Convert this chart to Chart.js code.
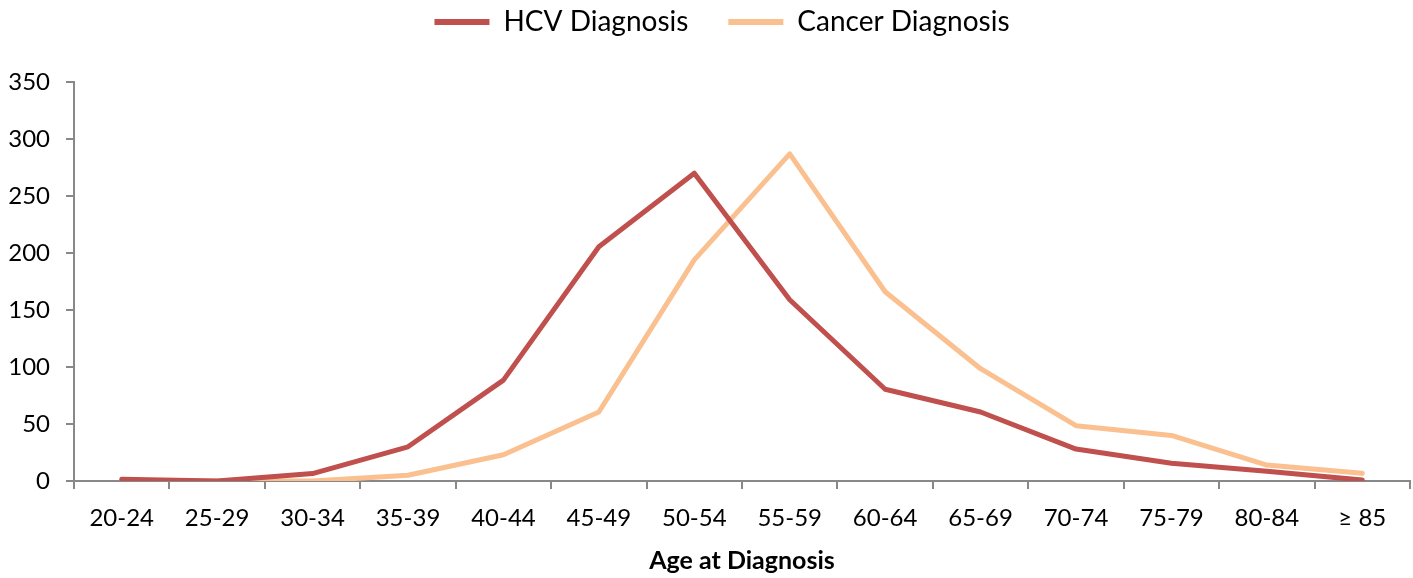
<!DOCTYPE html>
<html><head><meta charset="utf-8">
<script src="https://cdn.jsdelivr.net/npm/chart.js@4"></script>
<style>html,body{margin:0;padding:0;background:#fff}#wrap{width:1413px;height:578px}</style>
</head><body><div id="wrap"><canvas id="c" width="1413" height="578"></canvas></div>
<script>
const categories = ["20-24","25-29","30-34","35-39","40-44","45-49","50-54","55-59","60-64","65-69","70-74","75-79","80-84","\u2265 85"];
const hcvValues = [1.5, 0, 6.5, 30, 88.5, 205.5, 270, 159, 80.5, 60.5, 28, 15.5, 8.5, 0.8];
const cancerValues = [0, 0, 0, 5, 23, 60.5, 194, 287, 166, 98.5, 48.5, 40, 14, 6.8];
const yTicks = [0, 50, 100, 150, 200, 250, 300, 350];
const FONT = "Lato";
const legendShift = {
  id: 'legendShift',
  afterLayout(chart) {
    const lg = chart.legend;
    if (!lg) return;
    lg.top -= 36; lg.bottom -= 36;
    lg.left += 17; lg.right += 17;
  }
};
new Chart(document.getElementById('c'), {
  type: 'line',
  data: {
    labels: categories,
    datasets: [
      {label: 'HCV Diagnosis', data: hcvValues, borderColor: '#C0504D', backgroundColor: '#C0504D', borderWidth: 5, pointRadius: 0, tension: 0, borderJoinStyle: 'round', borderCapStyle: 'round'},
      {label: 'Cancer Diagnosis', data: cancerValues, borderColor: '#FAC090', backgroundColor: '#FAC090', borderWidth: 5, pointRadius: 0, tension: 0, borderJoinStyle: 'round', borderCapStyle: 'round'}
    ]
  },
  plugins: [legendShift],
  options: {
    responsive: false, animation: false,
    layout: {padding: {left: 0, right: 3, top: 4, bottom: 2}},
    plugins: {
      tooltip: {enabled: false},
      legend: {
        position: 'top',
        labels: {
          font: {family: FONT, size: 28}, color: '#000', boxWidth: 55, boxHeight: 6, padding: 40,
          generateLabels(chart) {
            return chart.data.datasets.map((d, i) => ({text: d.label, fillStyle: d.borderColor, strokeStyle: d.borderColor, lineWidth: 0, datasetIndex: i, fontColor: '#000'}));
          }
        }
      }
    },
    scales: {
      x: {
        offset: true,
        afterFit(scale) { scale.height = 95; },
        grid: {offset: true, drawOnChartArea: false, drawTicks: true, tickLength: 8, color: '#888', lineWidth: 2},
        border: {color: '#888', width: 2},
        ticks: {font: {family: FONT, size: 24}, color: '#000', padding: 15, maxRotation: 0, autoSkip: false},
        title: {display: true, text: 'Age at Diagnosis', font: {family: FONT, size: 25, weight: 'bold'}, color: '#000', padding: {top: 13, bottom: 0}}
      },
      y: {
        min: 0, max: 350,
        afterBuildTicks(scale) { scale.ticks = yTicks.map(v => ({value: v})); },
        afterFit(scale) { scale.width = 74; },
        grid: {drawOnChartArea: false, drawTicks: true, tickLength: 8, color: '#888', lineWidth: 2},
        border: {color: '#888', width: 2},
        ticks: {font: {family: FONT, size: 24}, color: '#000', padding: 16}
      }
    }
  }
});
</script></body></html>
